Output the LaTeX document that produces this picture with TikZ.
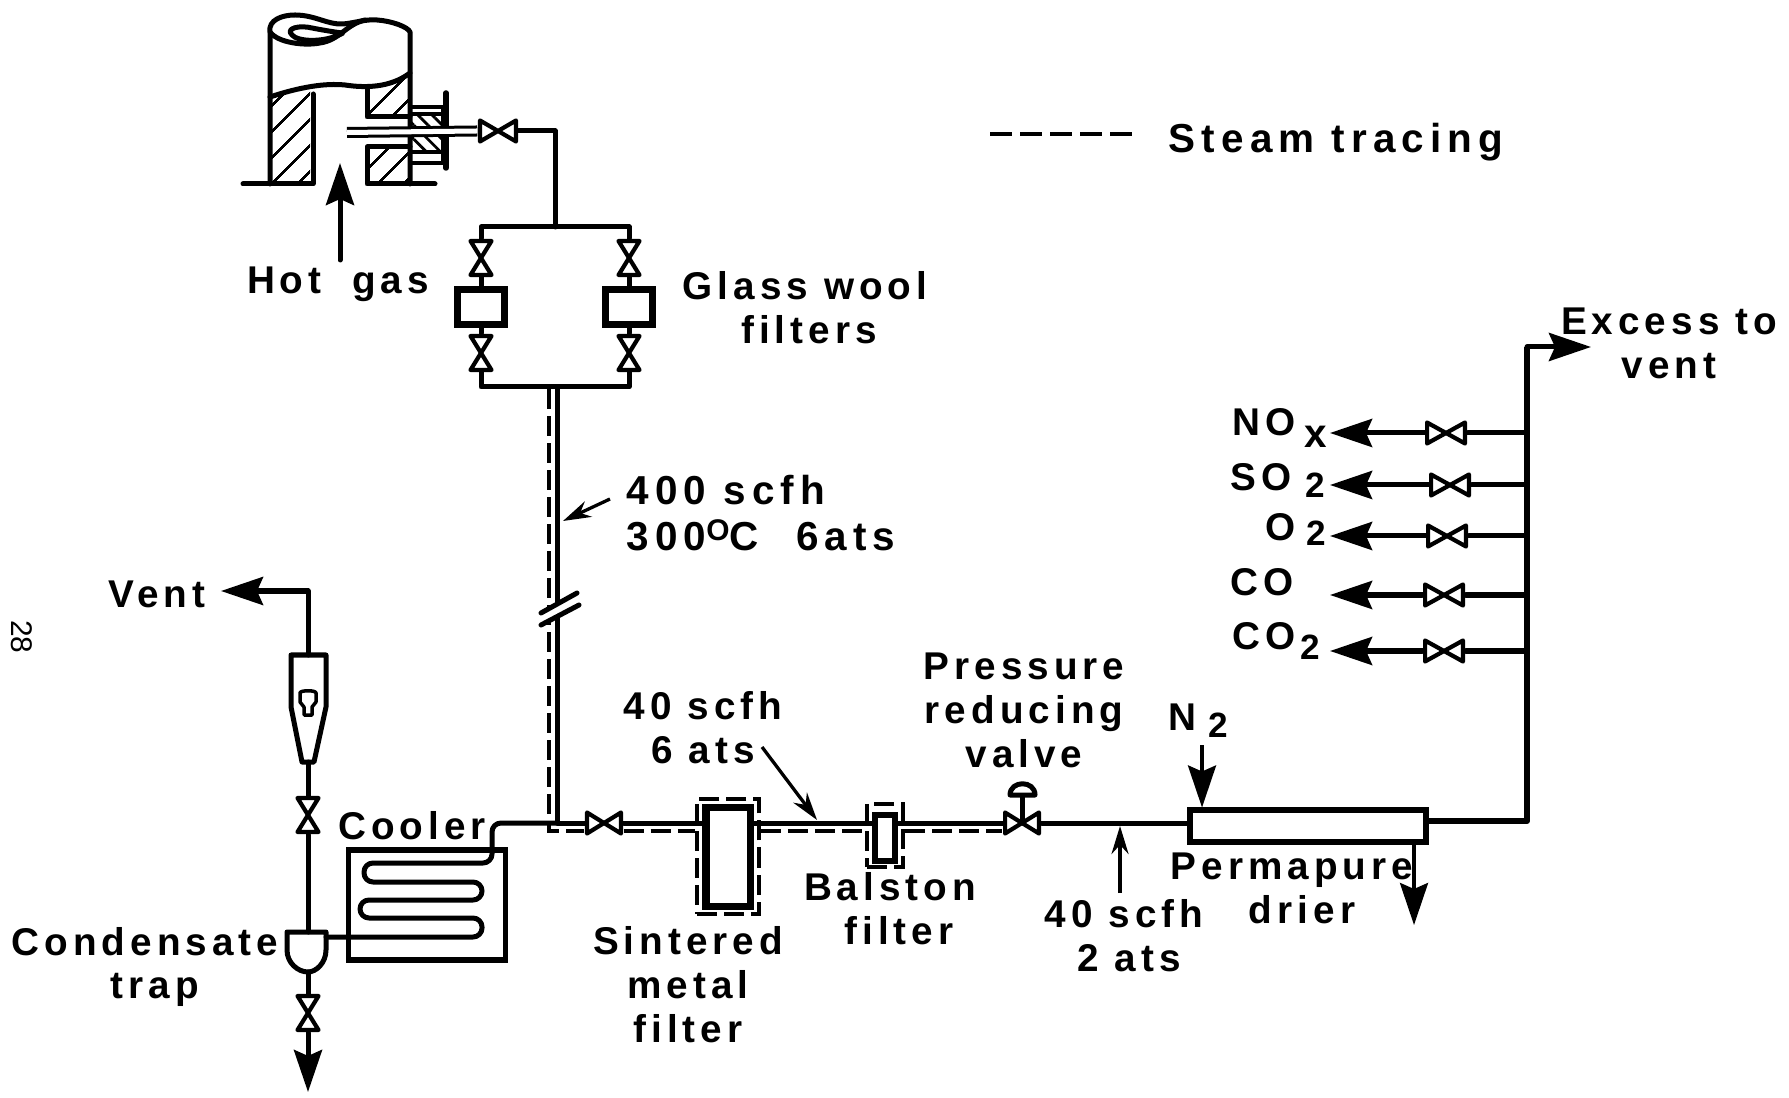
\documentclass[tikz,border=0pt]{standalone}
\usepackage{fontspec}
\setmainfont[LetterSpace=13]{Liberation Sans}
\newfontfamily\plainfont{Liberation Sans}
\usetikzlibrary{arrows.meta}
\usetikzlibrary{patterns.meta}
\newcommand{\sbs}[3]{\hspace{#1}\raisebox{#2}{\fontsize{10}{10}\selectfont #3}}
\tikzset{
    pipe/.style = {line width=.05cm, line join=round, line cap=round},
    thin_pipe/.style = {line width=.035cm, line join=round},
    pointer/.style = {line width=.033cm, -{Stealth[length=2.8mm,width=1.7mm]}},
    steam/.style = {line width=.04cm, dash pattern=on .2cm off .07cm},
    steam_box/.style = {rectangle, draw=black, fill=white, steam, inner sep=0pt},
    filter_box/.style = {rectangle, draw=black, fill=white, line width=.065cm, inner sep=0pt},
    hatch/.style = {pattern={Lines[angle=45,distance=1.9mm,line width=.8pt]}},
    back_hatch/.style = {pattern={Lines[angle=-45,distance=1mm,line width=.8pt]}},
    gas_label/.style = {align=center, inner sep=0pt, font=\fontsize{11}{12.5}\selectfont\bfseries},
    hvalve/.style = {rectangle, fill=white, inner sep=0pt, minimum height=.27cm, minimum width={(#1+2)*.02cm},
        path picture={\draw[shift={(path picture bounding box.center)}, line width=.042cm, line join=round]
            (-#1,-10.5) -- (#1,10.5) -- (#1,-10.5) -- (-#1,10.5) -- cycle;}},
    hvalve/.default = 17,
    vvalve/.style = {rectangle, fill=white, inner sep=0pt, minimum width=.27cm, minimum height=.38cm,
        path picture={\draw[shift={(path picture bounding box.center)}, line width=.042cm, line join=round]
            (-10.5,-17) -- (10.5,17) -- (-10.5,17) -- (10.5,-17) -- cycle;}}
}
\begin{document}
\begin{tikzpicture}[x=.01cm, y=-.01cm, >={Stealth[length=4.2mm,width=2.8mm,inset=.6mm]}]
    \useasboundingbox (0,0) rectangle (1789,1098);

    % stack
    \fill[hatch] (270,97) .. controls (285,92) and (297,89) .. (310,88) -- (310,184) -- (270,184) -- cycle;
    \fill[hatch] (367,87) .. controls (380,87) and (395,82) .. (410,73) -- (410,117) -- (367,117) -- cycle;
    \fill[hatch] (367,147) rectangle (410,184);
    \fill[back_hatch] (412,114) rectangle (443,152);
    \draw[pipe] (270,184) -- (270,32) .. controls (268,20) and (282,15) .. (295,15)
        .. controls (315,15) and (328,25) .. (343,24) .. controls (355,23) and (365,19) .. (377,20)
        .. controls (392,21) and (408,27) .. (410,32) -- (410,184);
    \draw[pipe] (270,32) .. controls (278,43) and (305,46) .. (320,43) .. controls (340,40) and (345,25) .. (365,20);
    \draw[pipe] (292,35) .. controls (285,28) and (300,25) .. (312,28) .. controls (322,30) and (340,33) .. (343,33)
        .. controls (325,43) and (298,42) .. (292,35);
    \draw[pipe] (270,97) .. controls (300,87) and (325,83) .. (345,85) .. controls (365,88) and (390,88) .. (410,73);
    \draw[pipe] (243,184) -- (313,184) -- (313,94);
    \draw[pipe] (435,184) -- (367,184) -- (367,147) -- (410,147);
    \draw[pipe] (367,87) -- (367,117) -- (410,117);
    \draw[thin_pipe] (410,107) -- (443,107) (410,163) -- (443,163) (412,114) -- (443,114) (412,152) -- (443,152) (443,107) -- (443,163);
    \draw[line width=.055cm, line cap=round] (446,93) -- (446,168);

    \coordinate (probe_end) at (347,132.5);
    \node [hvalve=18] (stack_valve) at (498,131) {};
    \draw[line width=.03cm, double=white, double distance=.05cm] (probe_end) -- (stack_valve.west);
    \coordinate (tee_top) at (555,227);
    \draw[pipe] (stack_valve.east) -| (tee_top);
    \coordinate (hot_start) at (340,260);
    \coordinate (hot_tip) at (340,163);
    \draw[pipe,->] (hot_start) -- (hot_tip);

    % glass wool filters
    \node [vvalve] (gl_valve_a) at (481,258) {};
    \node [vvalve] (gl_valve_b) at (481,353) {};
    \node [vvalve] (gr_valve_a) at (629,258) {};
    \node [vvalve] (gr_valve_b) at (629,353) {};
    \node [filter_box, minimum width=.47cm, minimum height=.345cm] (gl_box) at (481,307) {};
    \node [filter_box, minimum width=.47cm, minimum height=.345cm] (gr_box) at (629,307) {};
    \coordinate (tee_bot) at (557,387);
    \draw[pipe] (gl_valve_a.north) |- (tee_top) -| (gr_valve_a.north);
    \draw[pipe] (gl_valve_b.south) |- (tee_bot) -| (gr_valve_b.south);
    \draw[pipe] (gl_valve_a.south) -- (gl_box.north);
    \draw[pipe] (gr_valve_a.south) -- (gr_box.north);
    \draw[pipe] (gl_box.south) -- (gl_valve_b.north);
    \draw[pipe] (gr_box.south) -- (gr_valve_b.north);

    % main line
    \coordinate (jct) at (557,823);
    \coordinate (dash_top) at (549,389);
    \coordinate (dash_bot) at (549,831);
    \node [steam_box, minimum width=.615cm, minimum height=1.15cm] (sinter_out) at (728,856.5) {};
    \node [steam_box, minimum width=.36cm, minimum height=.63cm] (balston_out) at (885,835.5) {};
    \node [hvalve] (main_valve) at (604,823) {};
    \node [hvalve] (pres_valve) at (1022,823) {};
    \draw[steam] (dash_top) -- (dash_bot) -- (main_valve.west |- dash_bot);
    \draw[steam] (main_valve.east |- dash_bot) -- (sinter_out.west |- dash_bot);
    \draw[steam] (sinter_out.east |- dash_bot) -- (balston_out.west |- dash_bot);
    \draw[steam] (balston_out.east |- dash_bot) -- (pres_valve.west |- dash_bot);
    \node [filter_box, line width=.07cm, minimum width=.44cm, minimum height=.99cm] (sinter) at (728,857) {};
    \node [filter_box, line width=.06cm, minimum width=.2cm, minimum height=.46cm] (balston) at (885,838) {};
    \node [rectangle, draw=black, fill=white, line width=.06cm, inner sep=0pt, minimum width=2.35cm, minimum height=.31cm] (perma) at (1308,826) {};
    \draw[pipe] (tee_bot) -- (jct) -- (main_valve.west);
    \draw[pipe] (main_valve.east) -- (sinter.west |- main_valve);
    \draw[pipe] (sinter.east |- main_valve) -- (balston.west |- main_valve);
    \draw[pipe] (balston.east |- main_valve) -- (pres_valve.west);
    \draw[pipe] (pres_valve.east) -- (perma.west |- pres_valve);
    \coordinate (dome) at (1022,795);
    \draw[pipe] (dome) -- (pres_valve.center);
    \draw[pipe,fill=white] (1010,795) .. controls (1010,780) and (1035,780) .. (1035,795) -- cycle;

    % break in the line
    \coordinate (brk_a) at (541,613);
    \coordinate (brk_b) at (577,593);
    \coordinate (brk_c) at (541,625);
    \coordinate (brk_d) at (579,605);
    \fill[white] (brk_a) -- (brk_b) -- (brk_d) -- (brk_c) -- cycle;
    \draw[pipe] (brk_a) -- (brk_b);
    \draw[pipe] (brk_c) -- (brk_d);

    % cooler and trap
    \node [rectangle, draw=black, line width=.055cm, inner sep=0pt, minimum width=1.57cm, minimum height=1.1cm] (cooler) at (427,905) {};
    \coordinate (trap_top) at (308,932);
    \coordinate (trap_bot) at (308,972);
    \coordinate (trap_side) at (326,937);
    \draw[pipe, rounded corners=.09cm] (jct) -- (492,823) -- (492,863) -- (364,863) -- (364,882) -- (482,882) -- (482,900)
        -- (360,900) -- (360,918) -- (482,918) -- (482,937) -- (trap_side);
    \draw[pipe] (287,932) -- (326,932) -- (326,950) .. controls (326,963) and (316,972) .. (trap_bot)
        .. controls (298,972) and (287,963) .. (287,950) -- cycle;

    % rotameter
    \coordinate (rota_top) at (308,655);
    \coordinate (rota_bot) at (308,762);
    \draw[pipe] (291,655) -- (326,655) -- (326,707) -- (314,762) -- (302,762) -- (291,707) -- cycle;
    \draw[thin_pipe] (300,693) .. controls (300,690) and (316,690) .. (316,693) -- (316,702) -- (312,707) -- (312,715) -- (304,715) -- (304,707) -- (300,702) -- cycle;
    \node [vvalve] (rota_valve) at (308,815) {};
    \node [vvalve] (trap_valve) at (308,1013) {};
    \coordinate (vent_tip) at (221,591);
    \coordinate (drain_tip) at (308,1092);
    \draw[pipe,->] (rota_top) |- (vent_tip);
    \draw[pipe] (rota_bot) -- (rota_valve.north);
    \draw[pipe] (rota_valve.south) -- (trap_top);
    \draw[pipe] (trap_bot) -- (trap_valve.north);
    \draw[pipe,->] (trap_valve.south) -- (drain_tip);

    % permapure and analysers
    \coordinate (riser_bot) at (1527,821);
    \coordinate (riser_top) at (1527,347);
    \coordinate (excess_tip) at (1591,347);
    \coordinate (n2_start) at (1202,745);
    \coordinate (purge_tip) at (1414,925);
    \draw[line width=.06cm, line join=round] (perma.east |- riser_bot) -- (riser_bot) -- (riser_top);
    \draw[pipe,->] (riser_top) -- (excess_tip);
    \draw[thin_pipe,->] (n2_start) -- (perma.north -| n2_start);
    \draw[thin_pipe,->] (perma.south -| purge_tip) -- (purge_tip);
    \foreach \nm/\vx/\vy in {nox/1446/433, sox/1450/485, oxy/1447/536, cmo/1444/595, cdi/1444/651} {
        \node [hvalve=19] (\nm_valve) at (\vx,\vy) {};
        \coordinate (\nm_tip) at (1330,\vy);
        \draw[pipe] (riser_top |- \nm_valve) -- (\nm_valve.east);
        \draw[pipe,->] (\nm_valve.west) -- (\nm_tip);
    }

    % pointers
    \coordinate (flow_a) at (610,499);
    \coordinate (flow_b) at (563,521);
    \coordinate (flow_c) at (762,747);
    \coordinate (flow_d) at (817,820);
    \coordinate (flow_e) at (1120,893);
    \coordinate (flow_f) at (1120,826);
    \draw[pointer] (flow_a) -- (flow_b);
    \draw[pointer] (flow_c) -- (flow_d);
    \draw[pointer] (flow_e) -- (flow_f);

    % legend
    \coordinate (legend_a) at (990,134);
    \coordinate (legend_b) at (1132,134);
    \draw[line width=.035cm, dash pattern=on .22cm off .08cm] (legend_a) -- (legend_b);

    % labels
    \node [gas_label, font=\fontsize{11.5}{12.5}\selectfont\bfseries\addfontfeature{LetterSpace=15}] (steam_lbl) at (1336,142) {Steam tracing};
    \node [gas_label] (hot_lbl) at (338,284) {Hot\hspace{.15cm} gas};
    \node [gas_label] (glass_lbl) at (805,308) {Glass wool\\\hspace*{.08cm}filters};
    \node [gas_label, anchor=west, align=left, font=\fontsize{11.5}{13}\selectfont\bfseries\addfontfeature{LetterSpace=15}] (flow_lbl) at (626,513) {400 scfh\\300\raisebox{.45ex}{\fontsize{8.5}{8.5}\selectfont O}C\hspace{.2cm} 6ats};
    \node [gas_label] (vent_lbl) at (157,594) {Vent};
    \node [gas_label] (cooler_lbl) at (412,826) {Cooler};
    \node [gas_label] (trap_lbl) at (145,967) {Condensate\\\hspace*{.2cm}trap};
    \node [gas_label] (sinter_lbl) at (688,985) {Sintered\\metal\\filter};
    \node [gas_label] (balston_lbl) at (890,909) {Balston\\\hspace*{.18cm}filter};
    \node [gas_label] (six_lbl) at (703,728) {40 scfh\\6 ats};
    \node [gas_label] (pres_lbl) at (1024,710) {Pressure\\reducing\\valve};
    \node [gas_label] (two_lbl) at (1124,936) {40 scfh\\\hspace*{.1cm}2 ats};
    \node [gas_label] (perma_lbl) at (1292,888) {Permapure\\\hspace*{.2cm}drier};
    \node [gas_label] (excess_lbl) at (1669,343) {Excess to\\vent};
    \node [gas_label] (n2_lbl) at (1198,721) {N\sbs{1.2mm}{-.7mm}{2}};
    \node [gas_label, anchor=west] (nox_lbl) at (1232,428) {NO\sbs{.9mm}{-1.1mm}{\fontsize{11.5}{11.5}\selectfont x}};
    \node [gas_label, anchor=west] (sox_lbl) at (1230,480) {SO\sbs{1.4mm}{-.7mm}{2}};
    \node [gas_label, anchor=west] (oxy_lbl) at (1265,529) {O\sbs{1.1mm}{-.5mm}{2}};
    \node [gas_label, anchor=west] (cmo_lbl) at (1230,582) {CO};
    \node [gas_label, anchor=west] (cdi_lbl) at (1232,641) {CO\sbs{.5mm}{-1mm}{2}};
    \node [rotate=-90, font=\plainfont\fontsize{8.5}{8.5}\selectfont, inner sep=0pt] (page_no) at (22,637) {28};
\end{tikzpicture}
\end{document}
